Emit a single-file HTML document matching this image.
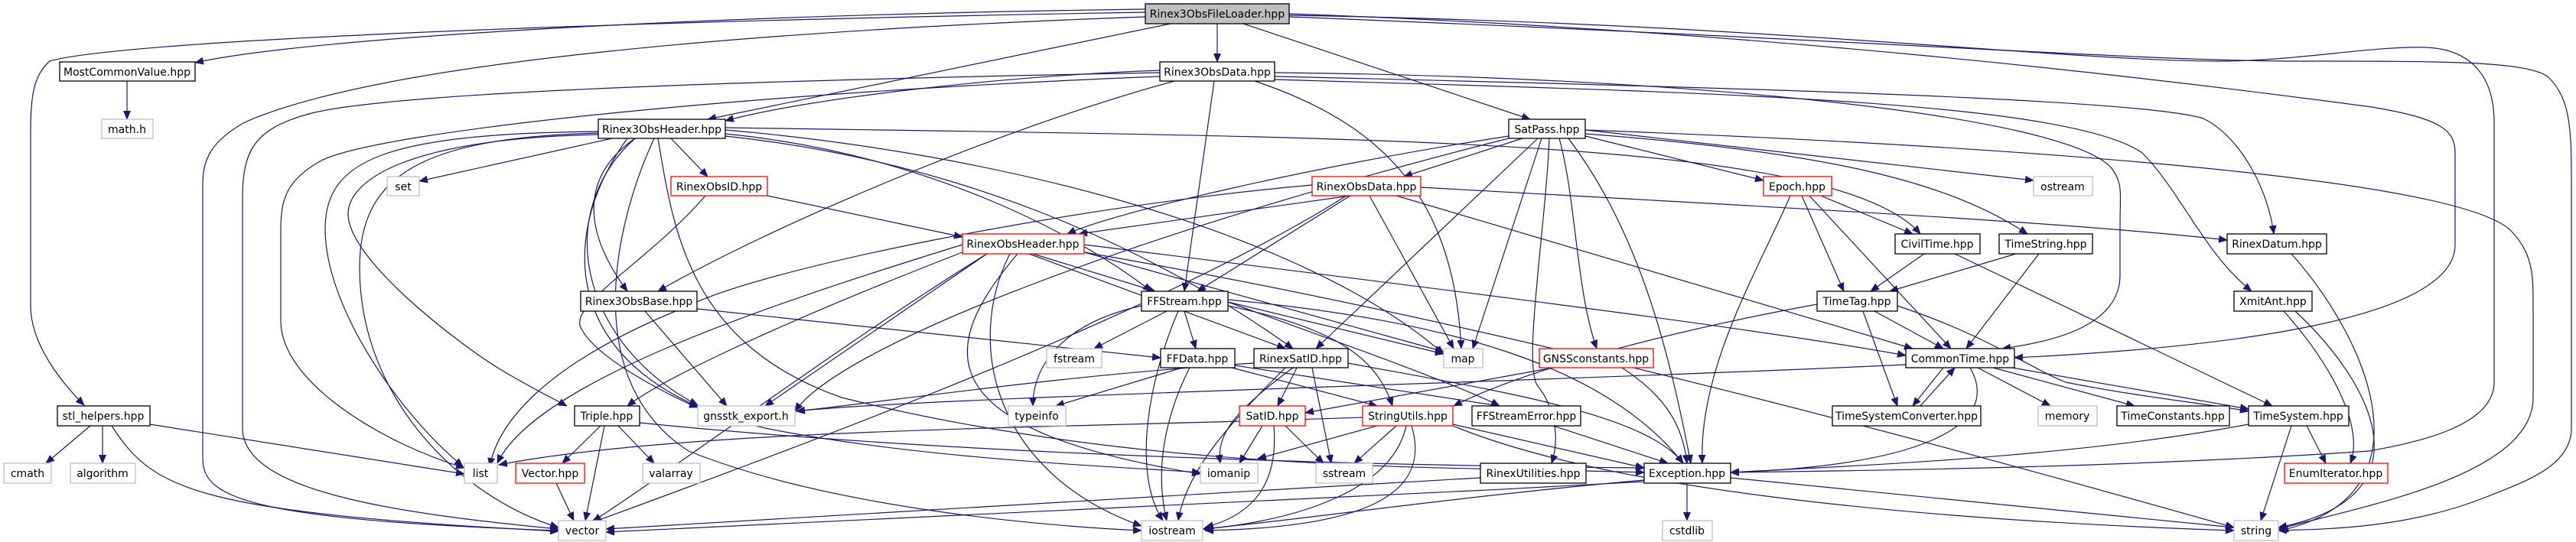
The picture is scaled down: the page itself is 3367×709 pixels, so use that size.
<!DOCTYPE html>
<html><head><meta charset="utf-8"><style>
html,body{margin:0;padding:0;background:#fff;}
svg{display:block;}
text{font-family:"DejaVu Sans","Liberation Sans",sans-serif;font-size:14px;fill:#000;text-anchor:middle;}
.e{fill:none;stroke:#191970;stroke-width:1.2;marker-end:url(#a);}
.n{fill:#fff;stroke:#000;stroke-width:1.3;}
.g{fill:#fff;stroke:#bfbfbf;stroke-width:1.3;}
.r{fill:#fff;stroke:#ff0000;stroke-width:1.3;}
</style></head><body>
<svg width="3367" height="709" viewBox="0 0 3367 709" xmlns="http://www.w3.org/2000/svg">
<defs><marker id="a" markerWidth="12" markerHeight="10" refX="11" refY="5" orient="auto" markerUnits="userSpaceOnUse"><path d="M0,0 L12,5 L0,10 z" fill="#191970"/></marker></defs>
<g>
<path class="e" d="M1497,12 C900,20 400,50 255,82"/>
<path class="e" d="M1497,16 C700,30 150,55 65,80 C42,100 40,130 40,180 L40,400 C40,450 80,500 110,530"/>
<path class="e" d="M1497,22 C1000,40 500,80 320,160 C275,185 265,210 265,240 L265,600 C265,650 320,680 730,694"/>
<path class="e" d="M1530,31 L925,156"/>
<path class="e" d="M1591,31 L1591,81"/>
<path class="e" d="M1625,31 L2000,156"/>
<path class="e" d="M1685,18 C2300,40 2800,100 3100,140 C3190,155 3209,170 3209,200 L3209,320 C3209,420 2900,455 2633,468"/>
<path class="e" d="M1685,20 C2300,30 2700,80 2900,80 C3000,80 3100,60 3170,62 C3230,64 3260,100 3260,160 L3260,500 C3260,560 3150,580 3097,590 C2800,610 2500,615 2262,618"/>
<path class="e" d="M1685,22 C2400,50 2800,80 3000,80 C3200,80 3300,80 3330,100 C3361,130 3361,170 3361,250 L3361,560 C3361,610 3300,630 3250,650 C3150,690 3050,692 2978,694"/>
<path class="e" d="M1516,92 C1300,100 1050,130 948,158"/>
<path class="e" d="M1516,95 C1000,105 500,120 400,150 C330,170 317,200 317,260 L317,560 C317,640 500,670 730,692"/>
<path class="e" d="M1516,100 C1000,120 500,170 420,210 C375,235 367,260 367,300 L367,420 C367,500 500,580 607,612"/>
<path class="e" d="M1535,106 C1300,170 1000,300 860,381"/>
<path class="e" d="M1587,106 L1548,381"/>
<path class="e" d="M1640,106 C1800,160 1900,250 1910,456"/>
<path class="e" d="M1666,95 C2200,100 2700,150 2760,220 C2775,240 2771,250 2771,300 L2771,360 C2771,420 2700,445 2617,456"/>
<path class="e" d="M1666,100 C2300,115 2800,130 2880,155 C2930,180 2965,250 2972,306"/>
<path class="e" d="M1666,104 C2200,120 2700,130 2800,200 C2850,250 2880,330 2943,381"/>
<path class="e" d="M800,181 L548,237"/>
<path class="e" d="M877,181 L925,231"/>
<path class="e" d="M830,181 C760,230 760,300 820,381"/>
<path class="e" d="M782,172 C500,175 425,210 425,300 C425,400 520,540 605,610"/>
<path class="e" d="M782,174 C550,180 470,230 470,350 C470,520 600,650 730,690"/>
<path class="e" d="M782,176 C520,182 455,240 455,280 C455,340 600,450 652,482 C690,505 720,520 741,531"/>
<path class="e" d="M830,181 C720,280 760,450 912,530"/>
<path class="e" d="M820,181 C720,320 740,500 1000,560 C1200,600 1450,610 1569,618"/>
<path class="e" d="M855,181 C800,300 760,500 900,590 C1100,670 1400,690 1492,694"/>
<path class="e" d="M948,170 C1300,200 1700,300 1887,463"/>
<path class="e" d="M948,175 C1200,200 1400,300 1505,381"/>
<path class="e" d="M948,178 C1250,210 1500,320 1690,456"/>
<path class="e" d="M948,167 C1800,180 2400,180 2510,306"/>
<path class="e" d="M860,181 C880,300 900,450 1100,520 C1500,620 1900,610 2149,618"/>
<path class="e" d="M1003,256 L1258,310"/>
<path class="e" d="M922,256 C850,340 740,400 760,430 C780,470 880,520 912,533"/>
<path class="e" d="M843,407 L950,531"/>
<path class="e" d="M911,404 L1517,468"/>
<path class="e" d="M1765,256 L1410,306"/>
<path class="e" d="M1765,256 L1565,381"/>
<path class="e" d="M1790,256 L1900,456"/>
<path class="e" d="M1825,256 L2500,456"/>
<path class="e" d="M1857,245 C2300,270 2700,290 2911,314"/>
<path class="e" d="M1715,242 C1400,270 1000,350 900,400 C700,480 650,560 640,610"/>
<path class="e" d="M1760,256 C1500,420 1000,600 770,685"/>
<path class="e" d="M1990,181 L1835,231"/>
<path class="e" d="M1972,178 C1700,220 1450,280 1395,306"/>
<path class="e" d="M2072,178 L2305,236"/>
<path class="e" d="M2072,170 L2658,236"/>
<path class="e" d="M2072,175 C2400,200 2550,240 2650,306"/>
<path class="e" d="M2015,181 L1925,456"/>
<path class="e" d="M2010,181 L1720,456"/>
<path class="e" d="M2038,181 C2060,260 2060,380 2087,456"/>
<path class="e" d="M2050,181 C2140,300 2180,450 2210,606"/>
<path class="e" d="M2025,181 C2020,300 1990,480 2010,505 C2030,530 2040,570 2028,606"/>
<path class="e" d="M1972,181 C1500,300 1100,450 1039,538"/>
<path class="e" d="M2072,170 C2600,190 3200,230 3280,300 C3311,330 3311,360 3311,400 L3311,520 C3311,620 3100,660 2978,692"/>
<path class="e" d="M2380,256 L2500,306"/>
<path class="e" d="M2355,256 L2410,381"/>
<path class="e" d="M2365,256 L2550,456"/>
<path class="e" d="M2340,256 C2300,350 2220,480 2225,606"/>
<path class="e" d="M2515,332 L2445,381"/>
<path class="e" d="M2555,332 L2970,531"/>
<path class="e" d="M2635,332 L2470,381"/>
<path class="e" d="M2665,332 L2570,456"/>
<path class="e" d="M2450,407 L2540,456"/>
<path class="e" d="M2435,407 L2480,531"/>
<path class="e" d="M2480,400 C2600,440 2650,480 2700,500 C2800,520 2900,530 2939,538"/>
<path class="e" d="M2375,398 C2200,430 2000,480 1900,531"/>
<path class="e" d="M2540,481 L2500,531"/>
<path class="e" d="M2510,531 L2555,481"/>
<path class="e" d="M2585,481 L2680,531"/>
<path class="e" d="M2605,481 L2790,531"/>
<path class="e" d="M2630,481 L2939,535"/>
<path class="e" d="M2575,481 C2620,560 2500,610 2262,618"/>
<path class="e" d="M2491,477 C2000,500 1200,520 1041,538"/>
<path class="e" d="M2985,407 C3050,480 3090,560 3072,606"/>
<path class="e" d="M3000,407 C3100,500 3180,650 2978,690"/>
<path class="e" d="M2995,332 C3100,450 3180,650 2980,694"/>
<path class="e" d="M3015,557 L3040,606"/>
<path class="e" d="M2995,557 L2955,681"/>
<path class="e" d="M2939,555 C2700,600 2400,610 2262,618"/>
<path class="e" d="M2120,481 C2180,520 2200,560 2205,606"/>
<path class="e" d="M2030,481 L1706,540"/>
<path class="e" d="M1525,407 L1430,456"/>
<path class="e" d="M1548,407 L1563,456"/>
<path class="e" d="M1492,400 C1400,420 1350,470 1350,531"/>
<path class="e" d="M1605,395 C1700,430 1900,500 1960,531"/>
<path class="e" d="M1605,400 C1750,430 1800,470 1820,531"/>
<path class="e" d="M1540,407 C1500,500 1480,620 1520,681"/>
<path class="e" d="M1605,392 C1900,420 2100,480 2200,606"/>
<path class="e" d="M1605,395 L1887,463"/>
<path class="e" d="M1545,481 L1380,531"/>
<path class="e" d="M1610,481 L1800,531"/>
<path class="e" d="M1614,478 L1960,531"/>
<path class="e" d="M1555,481 C1520,550 1510,620 1525,681"/>
<path class="e" d="M1695,481 L1670,531"/>
<path class="e" d="M1715,481 L1740,606"/>
<path class="e" d="M1690,481 C1610,540 1590,570 1595,606"/>
<path class="e" d="M1680,481 C1600,560 1550,620 1540,681"/>
<path class="e" d="M1762,475 C1950,510 2150,540 2200,606"/>
<path class="e" d="M1639,475 C1400,490 1200,520 1041,538"/>
<path class="e" d="M1650,557 L1620,606"/>
<path class="e" d="M1680,557 L1730,606"/>
<path class="e" d="M1665,557 C1670,620 1650,670 1575,690"/>
<path class="e" d="M1800,557 L1644,600"/>
<path class="e" d="M1825,557 L1770,606"/>
<path class="e" d="M1838,557 C1820,640 1700,680 1575,692"/>
<path class="e" d="M1845,557 C1870,640 1800,690 1575,694"/>
<path class="e" d="M1899,555 L2149,612"/>
<path class="e" d="M1899,557 C2100,640 2500,680 2920,694"/>
<path class="e" d="M1781,546 C1400,560 900,560 652,608"/>
<path class="e" d="M2030,557 L2180,606"/>
<path class="e" d="M1935,625 C1500,650 1000,680 792,692"/>
<path class="e" d="M2205,632 L2205,681"/>
<path class="e" d="M2262,625 L2920,690"/>
<path class="e" d="M2149,628 C1900,650 1700,680 1572,692"/>
<path class="e" d="M2149,630 C1600,660 1000,690 792,696"/>
<path class="e" d="M785,557 L735,606"/>
<path class="e" d="M790,557 L765,681"/>
<path class="e" d="M808,557 L855,606"/>
<path class="e" d="M836,553 C1300,600 1900,610 2149,612"/>
<path class="e" d="M727,632 L750,681"/>
<path class="e" d="M118,557 L60,606"/>
<path class="e" d="M134,557 L134,606"/>
<path class="e" d="M196,555 L607,620"/>
<path class="e" d="M146,557 C200,640 250,670 730,695"/>
<path class="e" d="M166,106 L166,156"/>
<path class="e" d="M1258,320 C1000,400 700,500 650,606"/>
<path class="e" d="M1290,332 C1100,450 900,600 775,682"/>
<path class="e" d="M1258,330 C1000,430 860,500 820,531"/>
<path class="e" d="M1290,332 L1000,531"/>
<path class="e" d="M1350,332 L1510,381"/>
<path class="e" d="M1345,332 L1680,456"/>
<path class="e" d="M1417,330 L1887,460"/>
<path class="e" d="M1417,320 C1900,380 2300,430 2491,465"/>
<path class="e" d="M1330,332 C1230,450 1200,560 1569,620"/>
<path class="e" d="M1320,332 C1260,450 1300,620 1492,688"/>
<path class="e" d="M1417,330 C2000,430 2600,600 2920,690"/>
</g>
<g>
<rect x="1497" y="5" width="188" height="26" fill="#bfbfbf" stroke="#000" stroke-width="1.3"/><text x="1591" y="23">Rinex3ObsFileLoader.hpp</text>
<rect class="n" x="78" y="81" width="177" height="25"/><text x="166" y="99">MostCommonValue.hpp</text>
<rect class="g" x="133" y="156" width="67" height="25"/><text x="166" y="174">math.h</text>
<rect class="n" x="1516" y="81" width="150" height="25"/><text x="1591" y="99">Rinex3ObsData.hpp</text>
<rect class="n" x="782" y="156" width="166" height="25"/><text x="865" y="174">Rinex3ObsHeader.hpp</text>
<rect class="n" x="1972" y="156" width="100" height="25"/><text x="2022" y="174">SatPass.hpp</text>
<rect class="g" x="506" y="231" width="42" height="25"/><text x="527" y="249">set</text>
<rect class="r" x="877" y="231" width="126" height="25"/><text x="940" y="249">RinexObsID.hpp</text>
<rect class="r" x="1715" y="231" width="142" height="25"/><text x="1786" y="249">RinexObsData.hpp</text>
<rect class="r" x="2305" y="231" width="89" height="25"/><text x="2349" y="249">Epoch.hpp</text>
<rect class="g" x="2658" y="231" width="77" height="25"/><text x="2696" y="249">ostream</text>
<rect class="r" x="1258" y="306" width="159" height="26"/><text x="1337" y="324">RinexObsHeader.hpp</text>
<rect class="n" x="2477" y="306" width="111" height="26"/><text x="2532" y="324">CivilTime.hpp</text>
<rect class="n" x="2613" y="306" width="122" height="26"/><text x="2674" y="324">TimeString.hpp</text>
<rect class="n" x="2911" y="306" width="130" height="26"/><text x="2976" y="324">RinexDatum.hpp</text>
<rect class="n" x="759" y="381" width="152" height="26"/><text x="835" y="399">Rinex3ObsBase.hpp</text>
<rect class="n" x="1492" y="381" width="113" height="26"/><text x="1548" y="399">FFStream.hpp</text>
<rect class="n" x="2375" y="381" width="105" height="26"/><text x="2427" y="399">TimeTag.hpp</text>
<rect class="n" x="2920" y="381" width="102" height="26"/><text x="2971" y="399">XmitAnt.hpp</text>
<rect class="g" x="1368" y="456" width="72" height="25"/><text x="1404" y="474">fstream</text>
<rect class="n" x="1517" y="456" width="97" height="25"/><text x="1565" y="474">FFData.hpp</text>
<rect class="n" x="1639" y="456" width="123" height="25"/><text x="1700" y="474">RinexSatID.hpp</text>
<rect class="g" x="1887" y="456" width="51" height="25"/><text x="1912" y="474">map</text>
<rect class="r" x="2012" y="456" width="149" height="25"/><text x="2086" y="474">GNSSconstants.hpp</text>
<rect class="n" x="2491" y="456" width="142" height="25"/><text x="2562" y="474">CommonTime.hpp</text>
<rect class="n" x="75" y="531" width="121" height="26"/><text x="135" y="549">stl_helpers.hpp</text>
<rect class="n" x="751" y="531" width="85" height="26"/><text x="793" y="549">Triple.hpp</text>
<rect class="g" x="912" y="531" width="127" height="26"/><text x="975" y="549">gnsstk_export.h</text>
<rect class="g" x="1318" y="531" width="75" height="26"/><text x="1355" y="549">typeinfo</text>
<rect class="r" x="1620" y="531" width="86" height="26"/><text x="1663" y="549">SatID.hpp</text>
<rect class="r" x="1781" y="531" width="118" height="26"/><text x="1840" y="549">StringUtils.hpp</text>
<rect class="n" x="1924" y="531" width="142" height="26"/><text x="1995" y="549">FFStreamError.hpp</text>
<rect class="n" x="2395" y="531" width="194" height="26"/><text x="2492" y="549">TimeSystemConverter.hpp</text>
<rect class="g" x="2664" y="531" width="77" height="26"/><text x="2702" y="549">memory</text>
<rect class="n" x="2767" y="531" width="147" height="26"/><text x="2840" y="549">TimeConstants.hpp</text>
<rect class="n" x="2939" y="531" width="131" height="26"/><text x="3004" y="549">TimeSystem.hpp</text>
<rect class="g" x="5" y="606" width="62" height="26"/><text x="36" y="624">cmath</text>
<rect class="g" x="92" y="606" width="85" height="26"/><text x="134" y="624">algorithm</text>
<rect class="g" x="607" y="606" width="43" height="26"/><text x="628" y="624">list</text>
<rect class="r" x="674" y="606" width="90" height="26"/><text x="719" y="624">Vector.hpp</text>
<rect class="g" x="840" y="606" width="75" height="26"/><text x="877" y="624">valarray</text>
<rect class="g" x="1569" y="606" width="75" height="26"/><text x="1606" y="624">iomanip</text>
<rect class="g" x="1720" y="606" width="74" height="26"/><text x="1757" y="624">sstream</text>
<rect class="n" x="1935" y="606" width="138" height="26"/><text x="2004" y="624">RinexUtilities.hpp</text>
<rect class="n" x="2149" y="606" width="113" height="26"/><text x="2205" y="624">Exception.hpp</text>
<rect class="r" x="2986" y="606" width="135" height="26"/><text x="3053" y="624">EnumIterator.hpp</text>
<rect class="g" x="730" y="681" width="62" height="26"/><text x="761" y="699">vector</text>
<rect class="g" x="1492" y="681" width="80" height="26"/><text x="1532" y="699">iostream</text>
<rect class="g" x="2173" y="681" width="65" height="26"/><text x="2205" y="699">cstdlib</text>
<rect class="g" x="2920" y="681" width="58" height="26"/><text x="2949" y="699">string</text>
</g>
</svg>
</body></html>
